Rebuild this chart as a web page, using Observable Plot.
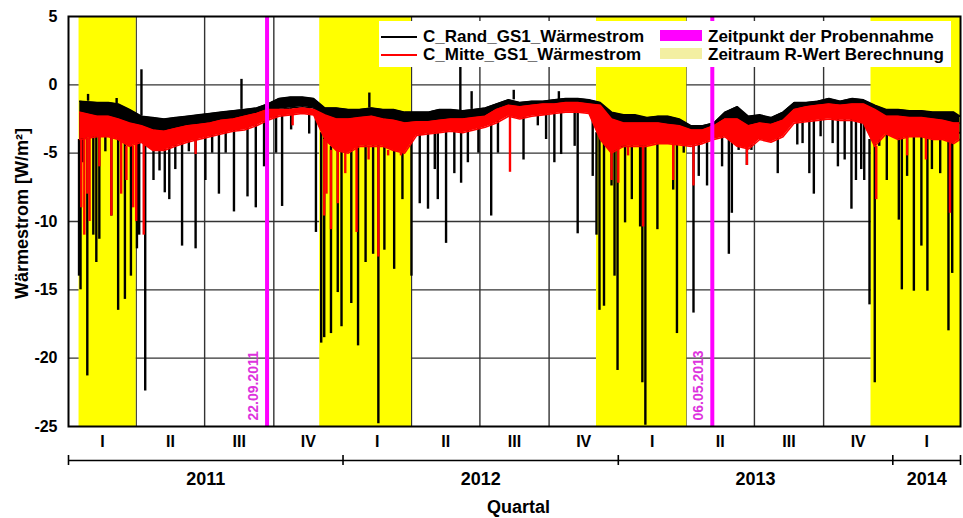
<!DOCTYPE html>
<html><head><meta charset="utf-8">
<script src="https://cdn.jsdelivr.net/npm/d3@7"></script>
<script src="https://cdn.jsdelivr.net/npm/@observablehq/plot@0.6"></script>
<style>
body{margin:0;background:#fff;}
#wrap{position:relative;width:963px;height:518px;font-family:"Liberation Sans",Arial,sans-serif;}
#legend{position:absolute;left:379px;top:21px;width:572px;height:46px;background:#fff;font-weight:bold;font-size:17px;color:#000;}
.item{position:absolute;white-space:nowrap;line-height:20px;transform:translateY(-50%);}
.sw{position:absolute;}
</style></head><body><div id="wrap"></div>
<script>
// ---- axes / categories ----
const xStart = new Date("2011-01-01"), xEnd = new Date("2014-04-01");
const yTicks = [5, 0, -5, -10, -15, -20, -25];
const gridValues = [0, -5, -10, -15, -20];
const quarterLabels = ["I","II","III","IV","I","II","III","IV","I","II","III","IV","I"];
const yearLabels = ["2011","2012","2013","2014"];
const yearBounds = ["2011-01-01","2012-01-01","2013-01-01","2014-01-01","2014-04-01"];
const rwertPeriods = [["2011-01-15","2011-04-01"],["2011-12-01","2012-04-01"],["2012-12-03","2013-04-02"],["2013-12-03","2014-04-01"]];
const sampleDates = ["2011-09-22","2013-05-06"];
const sampleLabels = ["22.09.2011","06.05.2013"];

// ---- envelope readings (half-month), W/m² ----
const randHi = [-1.2,-1.3,-1.3,-1.4,-1.8, -2.3,-2.4,-2.5,-2.4,-2.3, -2.2,-2.1,-2.0,-1.9,-1.8, -1.7,-1.4,-1.0,-0.9,-0.9, -1.0,-1.7,-1.7,-1.8,-1.8, -1.7,-1.8,-1.8,-2.0,-2.0, -2.0,-1.8,-1.8,-1.9,-1.8, -1.7,-1.4,-1.1,-1.3,-1.2, -1.2,-1.1,-1.0,-1.0,-1.1, -1.3,-2.0,-2.2,-2.2,-2.4, -2.3,-2.3,-2.5,-3.0,-3.0, -2.8,-2.0,-1.6,-2.3,-2.2, -2.4,-2.0,-1.3,-1.3,-1.2, -1.0,-1.2,-1.0,-1.1,-1.5, -1.8,-1.8,-1.9,-1.9,-2.0, -2.0,-2.0,-2.3];
const randLo = [-4.0,-3.5,-3.2,-3.3,-3.5, -3.3,-3.4,-3.5,-3.3,-3.2, -3.0,-2.9,-2.8,-2.7,-2.6, -2.4,-2.2,-1.8,-1.7,-1.6, -1.7,-3.5,-4.5,-4.5,-4.0, -4.0,-4.0,-3.8,-3.8,-3.0, -3.0,-2.8,-2.8,-2.8,-2.7, -2.6,-2.3,-2.0,-2.0,-1.8, -1.8,-1.7,-1.7,-1.6,-1.7, -3.5,-4.5,-4.5,-4.0,-4.0, -3.8,-3.6,-3.8,-4.0,-3.8, -3.7,-3.3,-3.0,-3.5,-3.2, -3.5,-3.0,-2.3,-2.2,-2.1, -2.0,-2.1,-2.0,-2.2,-4.0, -3.0,-3.5,-3.3,-3.3,-3.5, -3.5,-3.8,-3.5];
const mitteHi = [-2.0,-2.3,-2.3,-2.5,-2.8, -3.0,-3.3,-3.4,-3.2,-3.0, -2.9,-2.8,-2.6,-2.5,-2.3, -2.1,-1.8,-1.8,-1.8,-1.7, -1.8,-2.2,-2.5,-2.5,-2.4, -2.3,-2.5,-2.6,-2.8,-2.7, -2.7,-2.6,-2.5,-2.5,-2.4, -2.3,-1.8,-1.5,-1.6,-1.5, -1.4,-1.4,-1.3,-1.3,-1.4, -1.5,-2.5,-2.8,-2.8,-2.8, -2.8,-2.9,-3.0,-3.3,-3.3, -3.0,-2.5,-2.5,-3.0,-2.8, -2.9,-2.6,-1.8,-1.6,-1.5, -1.4,-1.5,-1.4,-1.4,-1.8, -2.3,-2.3,-2.4,-2.4,-2.5, -2.6,-2.8,-2.8];
const mitteLo = [-4.0,-3.8,-3.8,-4.0,-4.5, -4.2,-4.8,-4.8,-4.5,-4.2, -4.0,-3.8,-3.6,-3.4,-3.3, -3.0,-2.6,-2.3,-2.2,-2.1, -2.2,-4.0,-4.8,-5.0,-4.5, -4.5,-4.5,-4.8,-5.0,-3.7, -3.6,-3.5,-3.4,-3.5,-3.3, -3.1,-2.8,-2.3,-2.5,-2.3, -2.2,-2.1,-2.0,-2.0,-2.1, -4.0,-5.0,-4.5,-4.5,-4.5, -4.3,-4.3,-4.4,-4.5,-4.3, -4.0,-3.8,-4.5,-4.7,-4.0, -4.2,-3.8,-2.8,-2.7,-2.6, -2.5,-2.6,-2.6,-2.8,-4.5, -3.6,-4.0,-3.8,-3.8,-4.0, -4.0,-4.3,-4.0];

// ---- single-day spikes ----
const randSpikeDates = ["2011-01-15","2011-01-17","2011-01-20","2011-01-26","2011-01-27","2011-02-03","2011-02-07","2011-02-11","2011-02-19","2011-02-27","2011-03-06","2011-03-08","2011-03-17","2011-03-25","2011-04-02","2011-04-05","2011-04-08","2011-04-13","2011-04-24","2011-05-02","2011-05-09","2011-05-15","2011-05-23","2011-06-01","2011-06-10","2011-06-19","2011-07-02","2011-07-11","2011-07-20","2011-07-29","2011-08-09","2011-08-19","2011-08-27","2011-09-07","2011-09-18","2011-10-04","2011-10-12","2011-10-24","2011-11-17","2011-11-26","2011-12-03","2011-12-07","2011-12-16","2011-12-25","2011-12-30","2012-01-12","2012-01-21","2012-01-31","2012-02-05","2012-02-10","2012-02-17","2012-02-25","2012-03-09","2012-03-20","2012-04-01","2012-04-12","2012-04-23","2012-05-02","2012-05-06","2012-05-17","2012-05-28","2012-06-05","2012-06-06","2012-06-15","2012-06-20","2012-06-29","2012-07-16","2012-07-25","2012-08-15","2012-08-28","2012-09-16","2012-09-27","2012-10-08","2012-10-14","2012-10-17","2012-11-04","2012-11-08","2012-11-28","2012-12-03","2012-12-07","2012-12-13","2012-12-23","2012-12-27","2012-12-31","2013-01-10","2013-01-19","2013-01-30","2013-02-02","2013-02-06","2013-02-22","2013-03-15","2013-03-20","2013-03-29","2013-04-11","2013-04-18","2013-04-29","2013-05-19","2013-05-28","2013-06-01","2013-06-10","2013-06-21","2013-06-27","2013-08-01","2013-08-27","2013-09-03","2013-09-12","2013-09-18","2013-09-27","2013-10-13","2013-10-20","2013-10-29","2013-11-07","2013-11-13","2013-11-20","2013-11-24","2013-12-01","2013-12-08","2013-12-14","2013-12-24","2014-01-09","2014-01-13","2014-01-20","2014-01-29","2014-02-08","2014-02-16","2014-02-22","2014-03-05","2014-03-16","2014-03-21"];
const randSpikeValues = [-14,-15,-5.7,-21.3,-0.7,-11,-13,-11.3,-4.9,-9.6,-1.0,-16.5,-15.7,-14,-12,-11,1.1,-22.4,-7,-6.3,-7.9,-8.4,-6.2,-11.8,-4.9,-12,-7,-5,-8,-5,-9.3,0.4,-8.2,-9,-6,-5,-8.9,-3.3,-3.6,-10.8,-18.9,-18.5,-18.2,-15.2,-17.7,-16,-19.1,-13,-0.6,-12.4,-24.8,-12.1,-13.5,-8.4,-14,-8.7,-9.1,-6.2,-8.4,-11.6,-6.5,1.5,-7.2,-5.7,-0.5,-5,-9.6,-5,-0.4,-5.5,-3,-4,-5.7,-0.5,-5.1,-4.5,-10.9,-6.7,-11,-16.5,-16.2,-7.4,-14,-20.9,-10.1,-8.4,-10.4,-21.8,-24.9,-10.6,-7.7,-18.2,-5,-16.7,-6.7,-7.4,-6,-12.4,-9.4,-4.8,-5.9,-4.8,-6.5,-4.4,-4.3,-6.5,-8,-3.8,-4.3,-6,-5.5,-9.1,-7,-6.2,-7,-16.1,-21.8,-4.5,-7,-9.9,-15,-6.7,-15.1,-11.8,-15.1,-6.2,-6.5,-18,-13.8];
const mitteSpikeDates = ["2011-01-18","2011-01-22","2011-01-26","2011-01-29","2011-02-11","2011-02-27","2011-03-12","2011-03-19","2011-03-28","2011-04-01","2011-04-11","2011-06-19","2011-09-22","2011-10-26","2011-12-07","2011-12-10","2011-12-16","2011-12-25","2012-01-04","2012-01-19","2012-02-04","2012-02-17","2012-03-01","2012-03-18","2012-08-10","2012-12-23","2013-01-01","2013-01-14","2013-02-03","2013-03-15","2013-04-11","2013-06-21","2013-12-10","2014-01-20","2014-02-14","2014-03-18"];
const mitteSpikeValues = [-9,-11,-8,-10,-6,-9.6,-8,-7,-9,-10,-11,-5.1,-0.7,-3,-9.6,-8,-10.6,-8.7,-6.5,-10.8,-5.5,-12.6,-5.2,-5.2,-6.4,-7,-7.2,-5.2,-10.4,-7,-7.4,-5.9,-8.4,-5.2,-5.5,-9.4];

// ---- tables built from the arrays ----
const envDates = [new Date("2011-01-16"), ...d3.range(2, 78).map(k => new Date(Date.UTC(2011, Math.floor(k / 2), k % 2 ? 23 : 8))), new Date("2014-03-31")];
const env = envDates.map((date, i) => ({date, rHi: randHi[i], rLo: randLo[i], mHi: mitteHi[i], mLo: mitteLo[i]}));
const bis = d3.bisector(d => d.date).center;
function spikes(dates, values, hiKey, loKey) {
  return dates.map((s, i) => {
    const date = new Date(s), e = env[bis(env, date)], v = values[i];
    return {date, value: v, from: v < e[loKey] ? e[loKey] : e[hiKey]};
  });
}
const randSpikes = spikes(randSpikeDates, randSpikeValues, "rHi", "rLo");
const mitteSpikes = spikes(mitteSpikeDates, mitteSpikeValues, "mHi", "mLo");

const quarterStarts = d3.utcMonth.every(3).range(xStart, xEnd);
const quarters = quarterStarts.map((q, i) => ({date: new Date((+q + +d3.utcMonth.offset(q, 3)) / 2), label: quarterLabels[i]}));
const years = yearLabels.map((label, i) => ({date: new Date((+new Date(yearBounds[i]) + +new Date(yearBounds[i + 1])) / 2), label}));
const samples = sampleDates.map((d, i) => ({date: new Date(d), label: sampleLabels[i]}));

const bold = {fontWeight: "bold", fill: "black"};
const chart = Plot.plot({
  width: 963, height: 518,
  marginLeft: 68, marginRight: 3, marginTop: 16, marginBottom: 92,
  x: {type: "utc", domain: [xStart, xEnd], axis: null},
  y: {domain: [-25, 5], axis: null},
  style: {fontFamily: "'Liberation Sans', Arial, sans-serif", background: "white", overflow: "visible"},
  marks: [
    Plot.ruleY(gridValues, {stroke: "#333", strokeWidth: 1.4}),
    Plot.ruleX(quarterStarts.slice(1), {stroke: "#333", strokeWidth: 1.4}),
    Plot.rect(rwertPeriods, {x1: d => new Date(d[0]), x2: d => new Date(d[1]), fill: "#ffff00"}),
    Plot.areaY(env, {x: "date", y1: "rLo", y2: "rHi", fill: "black"}),
    Plot.line(env, {x: "date", y: "rHi", stroke: "black", strokeWidth: 1.6}),
    Plot.line(env, {x: "date", y: "rLo", stroke: "black", strokeWidth: 1.6}),
    Plot.ruleX(randSpikes, {x: "date", y1: "from", y2: "value", stroke: "black", strokeWidth: 2.4}),
    Plot.areaY(env, {x: "date", y1: "mLo", y2: "mHi", fill: "#ff0000"}),
    Plot.line(env, {x: "date", y: "mHi", stroke: "#ff0000", strokeWidth: 1.6}),
    Plot.line(env, {x: "date", y: "mLo", stroke: "#ff0000", strokeWidth: 1.6}),
    Plot.ruleX(mitteSpikes, {x: "date", y1: "from", y2: "value", stroke: "#ff0000", strokeWidth: 2.4}),
    Plot.ruleX(samples, {x: "date", stroke: "#ff00ff", strokeWidth: 4}),
    Plot.text(samples, {x: "date", text: "label", frameAnchor: "bottom", rotate: -90, textAnchor: "start", lineAnchor: "middle", dx: -14, dy: -6, fill: "#dd33dd", fontSize: 14, fontWeight: "bold"}),
    Plot.frame({stroke: "black", strokeWidth: 2}),
    // y tick labels
    Plot.text(yTicks, {y: d => d, text: d => String(d), frameAnchor: "left", textAnchor: "end", lineAnchor: "middle", dx: -11, fontSize: 16, ...bold}),
    Plot.text(["Wärmestrom [W/m²]"], {frameAnchor: "left", rotate: -90, textAnchor: "middle", lineAnchor: "middle", dx: -46, dy: -8, fontSize: 18, ...bold}),
    // quarter / year axis
    Plot.text(quarters, {x: "date", text: "label", frameAnchor: "bottom", lineAnchor: "middle", dy: 15, fontSize: 16, ...bold}),
    Plot.ruleY([-25], {x1: () => xStart, x2: () => xEnd, dy: 34, stroke: "black", strokeWidth: 1.6}),
    Plot.ruleX(yearBounds, {x: d => new Date(d), y1: -25, y2: -25, insetTop: -5, insetBottom: -5, dy: 34, stroke: "black", strokeWidth: 1.6}),
    Plot.text(years, {x: "date", text: "label", frameAnchor: "bottom", lineAnchor: "middle", dy: 53, fontSize: 18, ...bold}),
    Plot.text(["Quartal"], {frameAnchor: "bottom", lineAnchor: "middle", dx: 4, dy: 81, fontSize: 18, ...bold})
  ]
});
const wrap = document.getElementById("wrap");
wrap.appendChild(chart);

// legend (inside the plot area, top right)
const legend = document.createElement("div");
legend.id = "legend";
legend.innerHTML = `
  <div class="sw" style="left:2px;top:14.7px;width:36px;height:2.6px;background:#000"></div>
  <div class="item" style="left:44px;top:16px">C_Rand_GS1_Wärmestrom</div>
  <div class="sw" style="left:2px;top:32.7px;width:36px;height:2.6px;background:#ff0000"></div>
  <div class="item" style="left:44px;top:34px">C_Mitte_GS1_Wärmestrom</div>
  <div class="sw" style="left:281px;top:9px;width:42px;height:11px;background:#ff00ff"></div>
  <div class="item" style="left:329px;top:16px">Zeitpunkt der Probennahme</div>
  <div class="sw" style="left:281px;top:27px;width:42px;height:11px;background:#f3efa2"></div>
  <div class="item" style="left:329px;top:34px">Zeitraum R-Wert Berechnung</div>`;
wrap.appendChild(legend);
</script></body></html>
